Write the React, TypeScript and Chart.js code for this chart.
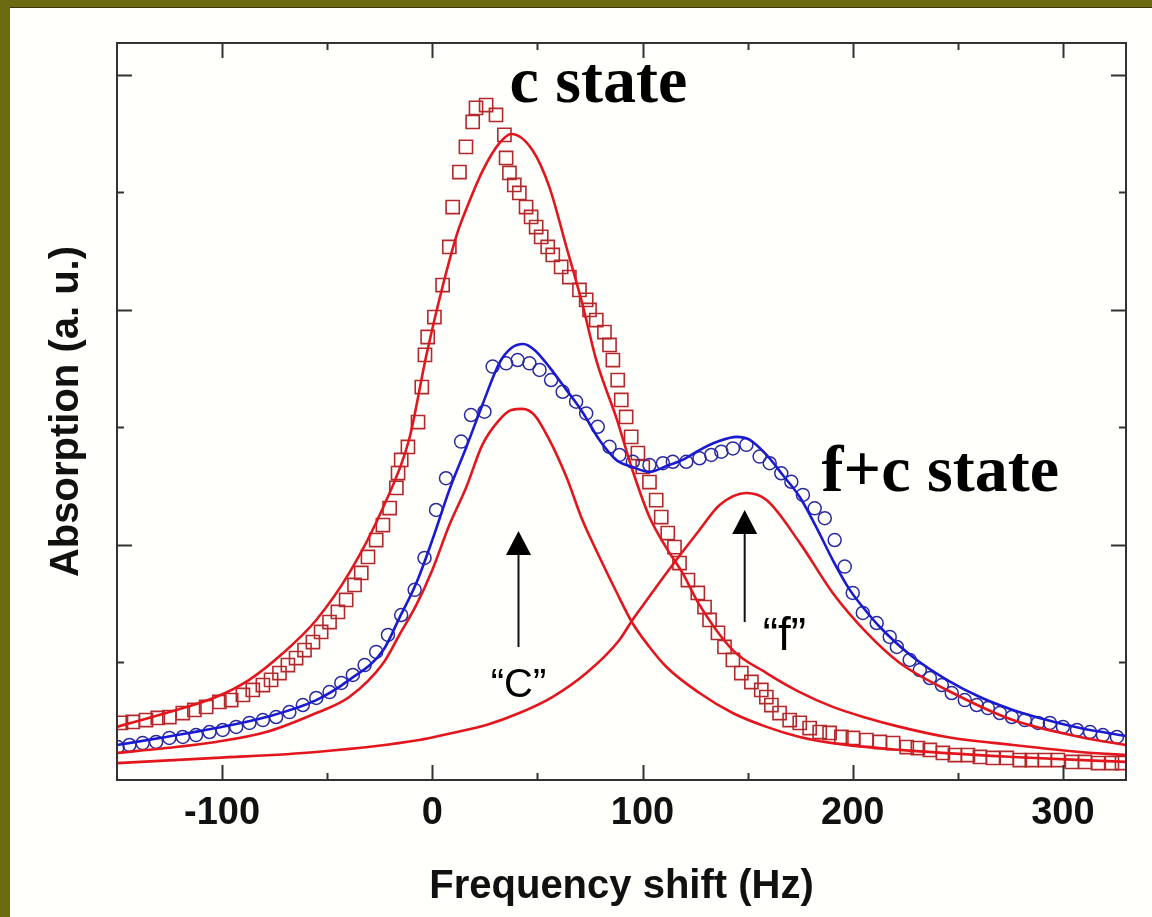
import React, { useEffect, useRef } from 'react';
import { Chart, registerables } from 'chart.js';

Chart.register(...registerables);

const X_MIN = -150;
const X_MAX = 330;
const Y_MIN = 0;
const Y_MAX = 3.136;

const xMajorTicks = [-100, 0, 100, 200, 300];
const xMinorTicks = [-50, 50, 150, 250];
const yMajorTicks = [1, 2, 3];
const yMinorTicks = [0.5, 1.5, 2.5];

const xTitle = 'Frequency shift (Hz)';
const yTitle = 'Absorption (a. u.)';

// c state measured absorption (squares)
const cStateData: [number, number][] = [
  [-148.1, 0.243], [-142.5, 0.247], [-136.2, 0.255], [-130.6, 0.264], [-125.1, 0.268], [-118.7, 0.285],
  [-113.2, 0.298], [-107.6, 0.311], [-101.3, 0.332], [-95.7, 0.34], [-90.1, 0.362], [-85.4, 0.383],
  [-80.6, 0.404], [-76.7, 0.426], [-72.7, 0.455], [-68.7, 0.489], [-64.8, 0.519], [-60.8, 0.553],
  [-56.8, 0.587], [-52.9, 0.63], [-48.9, 0.672], [-44.9, 0.715], [-41.0, 0.766], [-37.0, 0.83],
  [-33.8, 0.881], [-30.6, 0.949], [-26.7, 1.021], [-23.5, 1.085], [-20.3, 1.157], [-17.1, 1.243],
  [-16.3, 1.306], [-14.8, 1.362], [-11.6, 1.417], [-6.8, 1.523], [-5.0, 1.672], [-3.5, 1.809],
  [-2.2, 1.885], [1.0, 1.97], [4.9, 2.106], [8.1, 2.268], [9.7, 2.438], [12.9, 2.587], [16.0, 2.694],
  [19.2, 2.8], [20.8, 2.86], [25.6, 2.872], [30.3, 2.83], [34.3, 2.745], [35.1, 2.647], [36.7, 2.583],
  [39.0, 2.532], [41.4, 2.498], [44.6, 2.438], [47.0, 2.396], [49.4, 2.353], [51.8, 2.311], [54.9, 2.268],
  [57.3, 2.234], [61.3, 2.183], [65.2, 2.14], [70.0, 2.085], [73.2, 2.043], [74.8, 2.0], [78.0, 1.957],
  [81.9, 1.906], [84.3, 1.851], [85.9, 1.787], [88.2, 1.702], [89.9, 1.617], [92.2, 1.545], [94.6, 1.46],
  [97.8, 1.391], [100.1, 1.332], [103.3, 1.268], [106.5, 1.191], [108.9, 1.119], [112.0, 1.051],
  [115.2, 0.991], [117.6, 0.923], [121.6, 0.851], [126.3, 0.796], [129.5, 0.736], [131.9, 0.681],
  [135.9, 0.626], [139.0, 0.566], [143.0, 0.511], [147.0, 0.455], [151.8, 0.417], [156.5, 0.383],
  [158.9, 0.353], [161.3, 0.319], [165.2, 0.285], [170.0, 0.255], [174.8, 0.243], [179.5, 0.221],
  [184.3, 0.204], [189.0, 0.2], [194.6, 0.183], [200.1, 0.179], [206.5, 0.17], [212.9, 0.162],
  [219.2, 0.157], [225.7, 0.14], [231.0, 0.136], [236.7, 0.128], [242.9, 0.115], [248.6, 0.106],
  [254.8, 0.106], [260.5, 0.098], [266.7, 0.094], [273.3, 0.094], [279.5, 0.085], [285.2, 0.085],
  [291.4, 0.085], [297.6, 0.085], [304.3, 0.077], [310.5, 0.077], [316.7, 0.072], [323.3, 0.072], [328.1, 0.072],
];

// f+c state measured absorption (circles)
const fcStateData: [number, number][] = [
  [-149.7, 0.14], [-144.1, 0.149], [-137.8, 0.157], [-131.4, 0.162], [-125.1, 0.179], [-118.7, 0.183],
  [-112.4, 0.191], [-106.0, 0.204], [-99.7, 0.213], [-93.3, 0.226], [-87.0, 0.243], [-80.6, 0.255],
  [-74.3, 0.268], [-68.0, 0.289], [-61.6, 0.319], [-55.2, 0.349], [-48.9, 0.374], [-43.3, 0.413],
  [-37.8, 0.447], [-32.2, 0.489], [-26.7, 0.545], [-21.1, 0.617], [-14.8, 0.702], [-8.4, 0.809],
  [-3.7, 0.945], [1.8, 1.149], [6.5, 1.284], [13.7, 1.44], [18.4, 1.553], [24.8, 1.567], [28.7, 1.759],
  [35.1, 1.773], [40.6, 1.787], [46.2, 1.773], [51.0, 1.745], [56.5, 1.702], [62.0, 1.652], [68.4, 1.61],
  [73.2, 1.56], [78.7, 1.503], [84.3, 1.418], [89.0, 1.383], [95.4, 1.354], [103.3, 1.34], [109.7, 1.348],
  [114.4, 1.354], [120.8, 1.354], [127.1, 1.369], [132.7, 1.383], [137.5, 1.397], [143.0, 1.411],
  [149.4, 1.426], [155.7, 1.376], [160.5, 1.348], [166.0, 1.305], [170.8, 1.269], [176.3, 1.213],
  [181.9, 1.156], [186.7, 1.114], [191.4, 1.021], [196.2, 0.908], [200.0, 0.796], [204.8, 0.711],
  [211.4, 0.668], [217.6, 0.609], [221.0, 0.566], [227.1, 0.511], [231.9, 0.468], [236.7, 0.434],
  [242.4, 0.404], [247.1, 0.37], [253.3, 0.34], [259.0, 0.319], [264.3, 0.306], [270.0, 0.285],
  [275.7, 0.268], [281.9, 0.255], [288.1, 0.243], [293.8, 0.243], [300.0, 0.226], [306.7, 0.213],
  [312.9, 0.204], [319.0, 0.191], [325.7, 0.183],
];

// fit to c state
const cStateFit: [number, number][] = [
  [-150, 0.226], [-126.7, 0.285], [-102.9, 0.353], [-87.1, 0.426], [-71.0, 0.54], [-55.2, 0.681],
  [-39.5, 0.881], [-23.3, 1.162], [-11.0, 1.45], [-3.0, 1.8], [4.9, 2.1], [12.0, 2.33], [16.2, 2.43],
  [23.8, 2.59], [31.9, 2.71], [37.6, 2.749], [47.6, 2.681], [55.7, 2.523], [63.8, 2.268], [71.4, 2.025],
  [78.1, 1.783], [87.6, 1.54], [95.2, 1.319], [103.3, 1.119], [111.4, 0.987], [119.0, 0.881],
  [127.1, 0.745], [142.9, 0.553], [159.0, 0.455], [174.8, 0.374], [190.5, 0.311], [206.7, 0.264],
  [222.4, 0.226], [244.8, 0.183], [276.2, 0.149], [308.1, 0.119], [330, 0.106],
];

// fit to f+c state
const fcStateFit: [number, number][] = [
  [-150, 0.149], [-126.7, 0.183], [-102.9, 0.221], [-79.0, 0.268], [-55.2, 0.34], [-39.5, 0.426],
  [-23.3, 0.553], [-15.7, 0.689], [-7.6, 0.838], [0, 1.021], [8.1, 1.234], [16.2, 1.417], [23.8, 1.596],
  [31.9, 1.774], [37.6, 1.838], [43.3, 1.855], [48.6, 1.83], [55.7, 1.757], [63.8, 1.66], [71.4, 1.566],
  [79.5, 1.447], [87.6, 1.362], [95.2, 1.332], [103.3, 1.311], [111.4, 1.336], [119.0, 1.362],
  [127.1, 1.404], [135.2, 1.438], [144.8, 1.46], [151.0, 1.447], [159.0, 1.383], [166.7, 1.298],
  [174.8, 1.204], [182.9, 1.072], [190.5, 0.936], [198.6, 0.809], [206.7, 0.715], [212.9, 0.651],
  [228.6, 0.523], [244.8, 0.426], [260.5, 0.353], [276.2, 0.298], [292.4, 0.255], [308.1, 0.221], [330, 0.187],
];

// "C" component
const cComponent: [number, number][] = [
  [-150, 0.115], [-126.7, 0.136], [-102.9, 0.162], [-79.0, 0.204], [-55.2, 0.285], [-39.5, 0.353],
  [-23.3, 0.498], [-15.7, 0.617], [-7.6, 0.745], [0, 0.894], [8.1, 1.085], [16.2, 1.247], [23.8, 1.426],
  [31.9, 1.532], [37.6, 1.574], [42.9, 1.579], [48.6, 1.553], [55.7, 1.447], [63.8, 1.289], [71.4, 1.106],
  [79.5, 0.949], [87.6, 0.8], [95.2, 0.668], [103.3, 0.566], [111.4, 0.481], [127.1, 0.37], [142.9, 0.285],
  [159.0, 0.226], [174.8, 0.183], [190.5, 0.157], [222.4, 0.128], [276.2, 0.098], [330, 0.077],
];

// "f" component
const fComponent: [number, number][] = [
  [-150, 0.072], [-102.9, 0.094], [-55.2, 0.119], [-6.2, 0.17], [9.5, 0.2], [25.7, 0.234], [41.4, 0.285],
  [57.1, 0.353], [73.3, 0.455], [89.0, 0.596], [95.2, 0.681], [98.6, 0.723], [111.4, 0.881],
  [127.1, 1.064], [136.7, 1.17], [149.5, 1.221], [159.0, 1.191], [174.8, 1.009], [190.5, 0.796],
  [206.7, 0.626], [222.4, 0.498], [244.8, 0.383], [276.2, 0.255], [308.1, 0.183], [330, 0.149],
];

const arrowMarks = [
  { x: 41.0, yFrom: 0.566, yTo: 1.06, label: '\u201CC\u201D', labelX: 41.0, labelY: 0.353, size: 40 },
  { x: 148.6, yFrom: 0.672, yTo: 1.149, label: '\u201Cf\u201D', labelX: 167.5, labelY: 0.553, size: 46 },
];

const stateLabels = [
  { text: 'c state', x: 36.7, y: 2.885 },
  { text: 'f+c state', x: 185.2, y: 1.23 },
];

const RED = '#e3161e';
const BLUE = '#1a1ad2';

const toPts = (arr: [number, number][]) => arr.map(([x, y]) => ({ x, y }));

const decorPlugin = {
  id: 'decor',
  afterDatasetsDraw(chart: any) {
    const { ctx, chartArea: a, scales } = chart;
    const xs = scales.x;
    const ys = scales.y;
    ctx.save();
    // frame
    ctx.strokeStyle = '#333333';
    ctx.lineWidth = 2;
    ctx.strokeRect(a.left, a.top, a.right - a.left, a.bottom - a.top);
    // inward ticks
    ctx.beginPath();
    const xt = (v: number, len: number) => {
      const p = Math.round(xs.getPixelForValue(v)) + 0.5;
      ctx.moveTo(p, a.bottom); ctx.lineTo(p, a.bottom - len);
      ctx.moveTo(p, a.top); ctx.lineTo(p, a.top + len);
    };
    const yt = (v: number, len: number) => {
      const p = Math.round(ys.getPixelForValue(v)) + 0.5;
      ctx.moveTo(a.left, p); ctx.lineTo(a.left + len, p);
      ctx.moveTo(a.right, p); ctx.lineTo(a.right - len, p);
    };
    xMajorTicks.forEach((v) => xt(v, 15));
    xMinorTicks.forEach((v) => xt(v, 7));
    yMajorTicks.forEach((v) => yt(v, 15));
    yMinorTicks.forEach((v) => yt(v, 7));
    ctx.stroke();

    // arrows
    ctx.fillStyle = '#000';
    ctx.strokeStyle = '#111';
    ctx.lineWidth = 2;
    arrowMarks.forEach((m) => {
      const px = xs.getPixelForValue(m.x);
      const pFrom = ys.getPixelForValue(m.yFrom);
      const pTo = ys.getPixelForValue(m.yTo);
      ctx.beginPath();
      ctx.moveTo(px, pFrom);
      ctx.lineTo(px, pTo + 20);
      ctx.stroke();
      ctx.beginPath();
      ctx.moveTo(px, pTo);
      ctx.lineTo(px - 12.5, pTo + 24);
      ctx.lineTo(px + 12.5, pTo + 24);
      ctx.closePath();
      ctx.fill();
      ctx.font = `${m.size}px "Liberation Sans", Arial, sans-serif`;
      ctx.textAlign = 'center';
      ctx.textBaseline = 'alphabetic';
      ctx.fillText(m.label, xs.getPixelForValue(m.labelX), ys.getPixelForValue(m.labelY));
    });

    // state labels
    ctx.font = 'bold 66px "Liberation Serif", "Times New Roman", serif';
    ctx.textAlign = 'left';
    ctx.textBaseline = 'alphabetic';
    stateLabels.forEach((s) => {
      ctx.fillText(s.text, xs.getPixelForValue(s.x), ys.getPixelForValue(s.y));
    });

    // axis titles
    ctx.fillStyle = '#111';
    ctx.font = 'bold 40px "Liberation Sans", Arial, sans-serif';
    ctx.textAlign = 'center';
    ctx.fillText(xTitle, (a.left + a.right) / 2, 898);
    ctx.translate(78, (a.top + a.bottom) / 2);
    ctx.rotate(-Math.PI / 2);
    ctx.fillText(yTitle, 0, 0);
    ctx.restore();
  },
};

export default function App() {
  const ref = useRef<HTMLCanvasElement | null>(null);

  useEffect(() => {
    if (!ref.current) return;
    const lineDs = (label: string, data: [number, number][], color: string) => ({
      label,
      data: toPts(data),
      showLine: true,
      borderColor: color,
      borderWidth: 2.6,
      pointRadius: 0,
      fill: false,
      cubicInterpolationMode: 'monotone' as const,
    });
    const chart = new Chart(ref.current, {
      type: 'scatter',
      data: {
        datasets: [
          lineDs('f+c fit', fcStateFit, BLUE),
          lineDs('c fit', cStateFit, RED),
          lineDs('C component', cComponent, RED),
          lineDs('f component', fComponent, RED),
          {
            label: 'f+c state',
            data: toPts(fcStateData),
            showLine: false,
            pointStyle: 'circle',
            pointRadius: 6.5,
            pointBorderWidth: 1.5,
            pointBorderColor: '#2a2aa0',
            pointBackgroundColor: 'rgba(0,0,0,0)',
          },
          {
            label: 'c state',
            data: toPts(cStateData),
            showLine: false,
            pointStyle: 'rect',
            pointRadius: 9.3,
            pointBorderWidth: 1.6,
            pointBorderColor: '#b3282c',
            pointBackgroundColor: 'rgba(0,0,0,0)',
          },
        ],
      },
      options: {
        animation: false,
        responsive: false,
        devicePixelRatio: 1,
        events: [],
        layout: { padding: { left: 117, top: 43, right: 26, bottom: 0 } },
        plugins: { legend: { display: false }, tooltip: { enabled: false } },
        scales: {
          x: {
            type: 'linear',
            min: X_MIN,
            max: X_MAX,
            grid: { display: false, drawTicks: false },
            border: { display: false },
            ticks: {
              color: '#111',
              padding: 11,
              maxRotation: 0,
              font: { family: '"Liberation Sans", Arial, sans-serif', size: 38, weight: 'bold' },
              callback: (v: any) => String(v),
            },
            afterBuildTicks: (s: any) => {
              s.ticks = xMajorTicks.map((v) => ({ value: v }));
            },
            afterFit: (s: any) => {
              s.height = 137;
            },
          },
          y: {
            type: 'linear',
            display: false,
            min: Y_MIN,
            max: Y_MAX,
          },
        },
      },
      plugins: [decorPlugin],
    });
    return () => chart.destroy();
  }, []);

  return (
    <div style={{ position: 'fixed', left: 0, top: 0, width: 1152, height: 917, background: '#6c6a10', overflow: 'hidden' }}>
      <div style={{ position: 'absolute', left: 10, top: 7, right: 0, bottom: 0, background: '#fffffb', borderTop: '1px solid #3a3808' }} />
      <canvas ref={ref} width={1152} height={917} style={{ position: 'absolute', left: 0, top: 0, display: 'block' }} />
    </div>
  );
}
